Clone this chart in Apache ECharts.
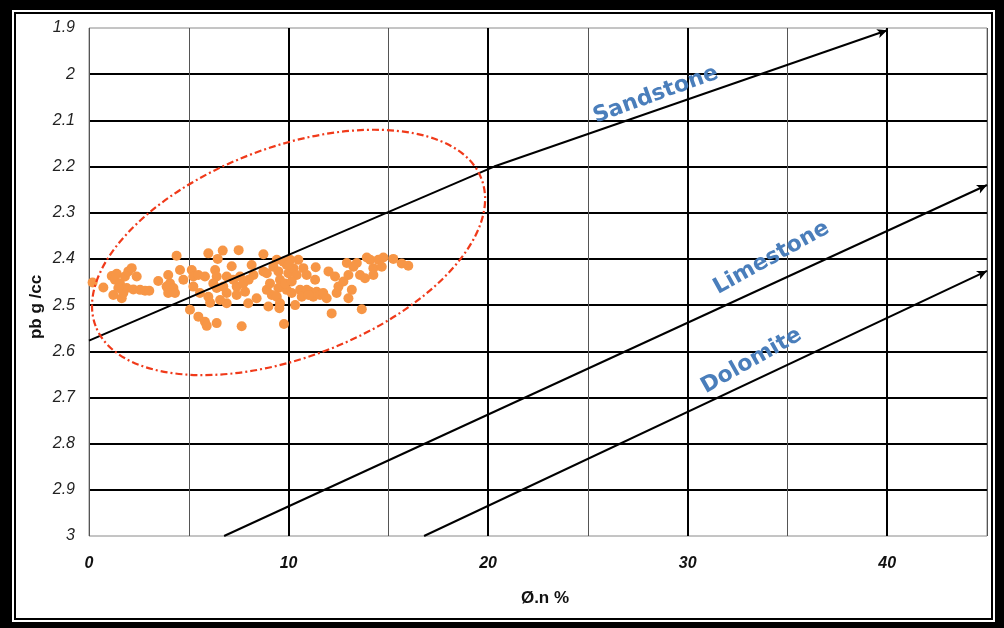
<!DOCTYPE html>
<html>
<head>
<meta charset="utf-8">
<script src="https://cdn.jsdelivr.net/npm/echarts@6/dist/echarts.min.js"></script>
<style>
html,body{margin:0;padding:0;background:#fff;}
#chart{width:1004px;height:628px;}
</style>
</head>
<body>
<div id="chart"></div>
<script>
// ---- data ----
const porosity = [0.18,0.72,1.14,1.30,1.39,1.55,1.22,1.64,1.80,1.97,2.14,1.89,2.22,2.39,2.56,2.81,3.02,1.72,1.47,3.47,
  3.97,4.06,3.89,4.23,3.97,4.31,4.56,4.39,5.98,6.70,7.50,6.45,8.74,5.15,5.23,5.48,5.81,5.23,5.06,5.48,
  5.81,5.90,6.40,5.56,5.98,6.07,6.32,6.40,6.23,6.40,6.73,6.90,6.90,7.15,7.23,7.40,7.57,7.73,7.82,7.98,
  7.65,8.15,8.24,8.40,8.74,8.91,8.99,9.16,9.24,9.41,9.49,9.57,9.49,9.41,9.57,9.54,9.77,9.74,9.91,9.99,
  10.08,10.24,10.49,10.41,9.91,10.16,10.33,10.58,10.66,10.74,10.91,11.08,11.24,11.33,11.36,11.41,11.58,11.74,11.91,12.00,
  12.16,12.41,12.33,12.50,12.75,12.92,13.00,13.17,13.00,13.25,13.42,13.58,13.67,13.83,13.92,14.09,14.25,14.25,14.50,14.67,
  14.75,15.25,15.67,16.00,4.73,6.90,8.91,9.07,9.82,10.91,10.16,7.40,6.57,11.0,8.0,10.0];
const density = [2.451,2.462,2.437,2.445,2.432,2.453,2.478,2.485,2.438,2.427,2.420,2.463,2.466,2.438,2.467,2.469,2.469,2.474,2.463,2.448,
  2.435,2.453,2.460,2.463,2.474,2.474,2.424,2.393,2.388,2.382,2.381,2.400,2.390,2.424,2.438,2.435,2.438,2.460,2.510,2.525,
  2.536,2.545,2.539,2.474,2.482,2.495,2.424,2.438,2.453,2.463,2.460,2.474,2.496,2.416,2.445,2.460,2.438,2.453,2.471,2.496,
  2.546,2.413,2.435,2.485,2.427,2.431,2.503,2.478,2.417,2.402,2.427,2.445,2.463,2.482,2.496,2.507,2.541,2.406,2.413,2.431,
  2.402,2.420,2.402,2.435,2.467,2.474,2.500,2.467,2.482,2.420,2.435,2.471,2.482,2.445,2.418,2.471,2.478,2.474,2.485,2.427,
  2.518,2.474,2.438,2.460,2.449,2.409,2.435,2.467,2.485,2.417,2.409,2.435,2.509,2.442,2.397,2.402,2.420,2.435,2.402,2.417,
  2.397,2.400,2.410,2.415,2.445,2.438,2.467,2.453,2.453,2.467,2.449,2.478,2.489,2.478,2.445,2.412];

const xTicks = [0, 10, 20, 30, 40];
const yTicks = [1.9, 2, 2.1, 2.2, 2.3, 2.4, 2.5, 2.6, 2.7, 2.8, 2.9, 3];

// lithology lines [porosity, density], last point carries the arrow
const sandstoneLine = [[0, 2.577], [20.3, 2.2], [40, 1.905]];
const limestoneLine = [[6.77, 3.0], [45, 2.24]];
const dolomiteLine  = [[16.79, 3.0], [45, 2.426]];

// label anchors [porosity, density]
const lithoNames = ['Sandstone', 'Limestone', 'Dolomite'];
const lithoLabelAt = [[28.4, 2.045], [34.2, 2.398], [33.2, 2.621]];

// ellipse centre [porosity, density]
const ellipseCentre = [10.0, 2.386];

const chart = echarts.init(document.getElementById('chart'), null, {renderer: 'canvas'});

function lineMarks(pts) {
  const out = [];
  for (let i = 0; i < pts.length - 1; i++) {
    const last = i === pts.length - 2;
    out.push([{coord: pts[i], symbol: 'none'}, {coord: pts[i + 1], symbol: last ? 'arrow' : 'none'}]);
  }
  return out;
}

const option = {
  backgroundColor: '#ffffff',
  animation: false,
  grid: {left: 89, right: 17, top: 28, bottom: 92, show: true, borderColor: '#8a8a8a', borderWidth: 1, outerBoundsMode: 'none'},
  xAxis: [
    {type: 'value', min: 0, max: 45, interval: 5, position: 'top',
     axisLine: {show: false}, axisTick: {show: false}, axisLabel: {show: false},
     splitLine: {show: true, lineStyle: {color: '#555', width: 1}}},
    {type: 'value', min: 0, max: 45, interval: 10, position: 'bottom',
     axisLine: {show: false}, axisTick: {show: false},
     axisLabel: {show: true, margin: 20, color: '#111', fontSize: 16, fontStyle: 'italic', fontWeight: 'bold',
       fontFamily: 'Liberation Sans, Arial, sans-serif',
       formatter: v => xTicks.indexOf(v) >= 0 ? String(v) : ''},
     splitLine: {show: true, showMinLine: false, showMaxLine: false, lineStyle: {color: '#000', width: 2}}}
  ],
  yAxis: {type: 'value', min: 1.9, max: 3, interval: 0.1, inverse: true,
    axisLine: {show: false}, axisTick: {show: false},
    axisLabel: {show: true, margin: 14, color: '#222', fontSize: 16, fontStyle: 'italic',
      fontFamily: 'Liberation Sans, Arial, sans-serif',
      formatter: v => String(Number(v.toFixed(1)))},
    splitLine: {show: true, showMinLine: false, showMaxLine: false, lineStyle: {color: '#000', width: 2}}},
  series: [
    {type: 'scatter', xAxisIndex: 1, symbol: 'circle', symbolSize: 10,
     itemStyle: {color: '#f79646', opacity: 1},
     data: porosity.map((x, i) => [x, density[i]]), z: 3},
    {type: 'line', xAxisIndex: 1, data: [], z: 4,
     markLine: {silent: true, animation: false, symbolSize: [7, 10],
       lineStyle: {color: '#000', width: 2, type: 'solid'}, label: {show: false},
       emphasis: {disabled: true},
       data: [].concat(lineMarks(sandstoneLine), lineMarks(limestoneLine), lineMarks(dolomiteLine))}}
  ]
};
chart.setOption(option);

const toPx = p => chart.convertToPixel({xAxisIndex: 1, yAxisIndex: 0}, p);
const c = toPx(ellipseCentre);
const labelRot = [20, 29, 29.5];
const graphics = [
  {type: 'ellipse', x: c[0], y: c[1], rotation: 20.9 * Math.PI / 180, z: 10,
   shape: {cx: 0, cy: 0, rx: 206.5, ry: 105},
   style: {fill: null, stroke: '#f03a1a', lineWidth: 2.2, lineDash: [7, 3, 2, 3]}},
  // frame
  {type: 'rect', shape: {x: 0, y: 0, width: 1004, height: 10}, style: {fill: '#000'}, z: 20},
  {type: 'rect', shape: {x: 0, y: 622, width: 1004, height: 6}, style: {fill: '#000'}, z: 20},
  {type: 'rect', shape: {x: 0, y: 0, width: 12, height: 628}, style: {fill: '#000'}, z: 20},
  {type: 'rect', shape: {x: 995, y: 0, width: 9, height: 628}, style: {fill: '#000'}, z: 20},
  {type: 'rect', shape: {x: 15, y: 13, width: 977, height: 606}, style: {fill: null, stroke: '#000', lineWidth: 2}, z: 20},
  // axis titles
  {type: 'text', x: 36, y: 307, rotation: Math.PI / 2, z: 20,
   style: {text: 'pb g /cc', fill: '#111', font: 'bold 17px "Liberation Sans", Arial, sans-serif', align: 'center', verticalAlign: 'middle'}},
  {type: 'text', x: 545, y: 598, z: 20,
   style: {text: 'Ø.n %', fill: '#111', font: 'bold 17px "Liberation Sans", Arial, sans-serif', align: 'center', verticalAlign: 'middle'}}
];
lithoNames.forEach((name, i) => {
  const p = toPx(lithoLabelAt[i]);
  graphics.push({type: 'text', x: p[0], y: p[1], rotation: labelRot[i] * Math.PI / 180, z: 15,
    style: {text: name, fill: '#4a7ebb', font: 'bold 22px "DejaVu Sans", Verdana, sans-serif', align: 'center', verticalAlign: 'middle'}});
});
chart.setOption({graphic: graphics});
</script>
</body>
</html>
